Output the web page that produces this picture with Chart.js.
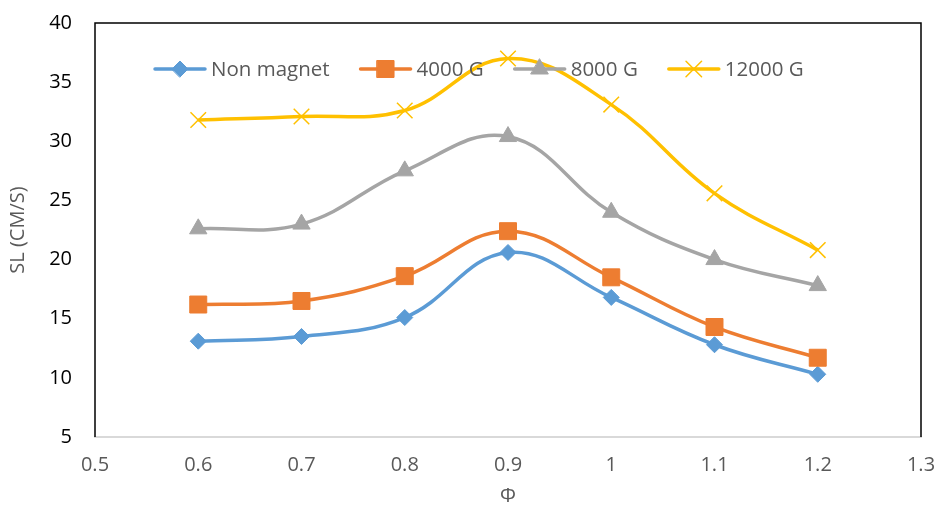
<!DOCTYPE html>
<html>
<head>
<meta charset="utf-8">
<script src="https://cdn.jsdelivr.net/npm/chart.js@4.4.0/dist/chart.umd.min.js"></script>
<style>
  html, body { margin: 0; padding: 0; background: #fff; }
  #wrap { width: 938px; height: 506px; }
</style>
</head>
<body>
<div id="wrap"><canvas id="chart" width="938" height="506"></canvas></div>
<script>
// data
const phi = [0.6, 0.7, 0.8, 0.9, 1.0, 1.1, 1.2];
const nonMagnet = [13.1, 13.5, 15.1, 20.6, 16.8, 12.8, 10.3];
const g4000 = [16.2, 16.5, 18.6, 22.4, 18.5, 14.3, 11.7];
const g8000 = [22.6, 23.0, 27.5, 30.4, 24.0, 20.0, 17.8];
const g12000 = [31.8, 32.1, 32.6, 37.0, 33.1, 25.6, 20.8];
const seriesNames = ["Non magnet", "4000 G", "8000 G", "12000 G"];

const FONT = "'Open Sans', 'DejaVu Sans', sans-serif";

function pts(ys) {
  return phi.map((x, i) => ({ x: x, y: ys[i] }));
}

function series(label, ys, color, style, radius, bw, order) {
  return {
    label: label,
    data: pts(ys),
    showLine: true,
    borderColor: color,
    backgroundColor: color,
    borderWidth: 3.5,
    tension: 0.4,
    pointStyle: style,
    pointRadius: radius,
    pointHoverRadius: radius,
    pointBorderColor: color,
    pointBackgroundColor: color,
    pointBorderWidth: bw,
    order: order
  };
}

// black frame on top, left, right of the plot area
const frame = {
  id: "frame",
  beforeDatasetsDraw(chart) {
    const { ctx, chartArea: a } = chart;
    ctx.save();
    ctx.strokeStyle = "#000";
    ctx.lineWidth = 1.5;
    ctx.beginPath();
    ctx.moveTo(a.left, a.bottom);
    ctx.lineTo(a.left, a.top);
    ctx.lineTo(a.right, a.top);
    ctx.lineTo(a.right, a.bottom);
    ctx.stroke();
    ctx.restore();
  }
};

// legend drawn inside the plot, line + marker like the original
const inLegend = {
  id: "inLegend",
  afterDatasetsDraw(chart) {
    const ctx = chart.ctx;
    let x = 155;
    const y = 69;
    ctx.save();
    ctx.font = "20.5px " + FONT;
    ctx.textBaseline = "middle";
    chart.data.datasets.forEach(ds => {
      ctx.strokeStyle = ds.borderColor;
      ctx.fillStyle = ds.borderColor;
      ctx.lineWidth = 3.5;
      ctx.lineCap = "round";
      ctx.beginPath();
      ctx.moveTo(x, y);
      ctx.lineTo(x + 50, y);
      ctx.stroke();
      ctx.lineWidth = ds.pointBorderWidth;
      Chart.helpers.drawPoint(ctx, {
        pointStyle: ds.pointStyle,
        radius: ds.pointRadius,
        rotation: 0,
        borderWidth: ds.pointBorderWidth
      }, x + 25, y);
      ctx.fillStyle = "#595959";
      ctx.fillText(ds.label, x + 56, y + 1);
      x += 56 + ctx.measureText(ds.label).width + 31;
    });
    ctx.restore();
  }
};

new Chart(document.getElementById("chart"), {
  type: "scatter",
  data: {
    datasets: [
      series(seriesNames[0], nonMagnet, "#5B9BD5", "rectRot", 8, 1, 3),
      series(seriesNames[1], g4000, "#ED7D31", "rect", 12, 1, 2),
      series(seriesNames[2], g8000, "#A5A5A5", "triangle", 10, 1, 1),
      series(seriesNames[3], g12000, "#FFC000", "crossRot", 11, 1.5, 0)
    ]
  },
  options: {
    responsive: false,
    animation: false,
    layout: { padding: { top: 23, right: 17, left: 0, bottom: 0 } },
    plugins: {
      legend: { display: false },
      tooltip: { enabled: false }
    },
    scales: {
      x: {
        type: "linear",
        min: 0.5,
        max: 1.3,
        afterFit: s => {
          s.height = 69;
          s.paddingLeft = 0;
          s.paddingRight = 0;
        },
        grid: { display: false, drawTicks: false },
        border: { display: true, color: "#D9D9D9", width: 2 },
        ticks: {
          stepSize: 0.1,
          padding: 16,
          color: "#595959",
          font: { family: FONT, size: 20 },
          callback: v => String(Math.round(v * 10) / 10)
        },
        title: {
          display: true,
          text: "Φ",
          color: "#595959",
          font: { family: FONT, size: 20, lineHeight: 1 },
          padding: 0
        }
      },
      y: {
        min: 5,
        max: 40,
        afterFit: s => {
          s.width = 95;
          s.paddingTop = 0;
          s.paddingBottom = 0;
        },
        grid: { display: false, drawTicks: false },
        border: { display: false },
        ticks: {
          stepSize: 5,
          padding: 23,
          color: "#000",
          font: { family: FONT, size: 20 }
        },
        title: {
          display: true,
          text: "SL (CM/S)",
          color: "#595959",
          font: { family: FONT, size: 20 },
          padding: { top: 6, bottom: 0 }
        }
      }
    }
  },
  plugins: [frame, inLegend]
});
</script>
</body>
</html>
